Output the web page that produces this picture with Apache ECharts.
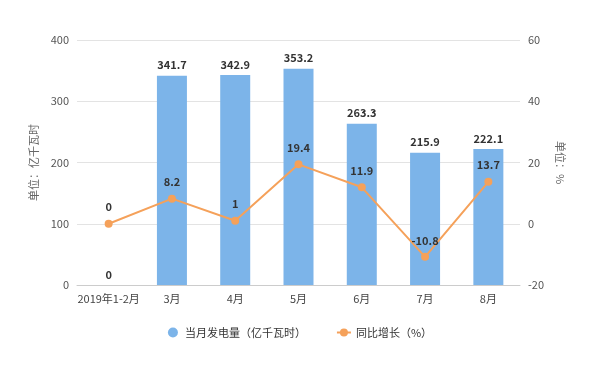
<!DOCTYPE html>
<html><head><meta charset="utf-8">
<script src="https://cdn.jsdelivr.net/npm/echarts@6/dist/echarts.min.js"></script>
<style>html,body{margin:0;padding:0;background:#fff}#c{width:600px;height:365px}</style>
</head><body><div id="c"></div>
<script>
const categories = ['2019年1-2月','3月','4月','5月','6月','7月','8月'];
const generation = [0, 341.7, 342.9, 353.2, 263.3, 215.9, 222.1];
const growth = [0, 8.2, 1, 19.4, 11.9, -10.8, 13.7];
const leftTicks = {min:0, max:400, interval:100};
const rightTicks = {min:-20, max:60, interval:20};
const seriesNames = ['当月发电量（亿千瓦时）','同比增长（%）'];

const chart = echarts.init(document.getElementById('c'));
const font = '"Microsoft YaHei","Noto Sans CJK SC",sans-serif';
chart.setOption({
  animation:false,
  textStyle:{fontFamily:font},
  grid:{left:77,right:80,top:40,bottom:80,containLabel:false},
  legend:{
    bottom:22, left:'center', itemGap:30, itemWidth:14, itemHeight:10,
    textStyle:{fontSize:11,color:'#333',fontFamily:font},
    data:[{name:seriesNames[0],icon:'circle'},{name:seriesNames[1]}]
  },
  xAxis:{
    type:'category', data:categories,
    axisLine:{lineStyle:{color:'#ccc'}},
    axisTick:{alignWithLabel:true,lineStyle:{color:'#ccc'}},
    axisLabel:{color:'#444',fontSize:11,margin:8,interval:0}
  },
  yAxis:[{
    type:'value', min:leftTicks.min, max:leftTicks.max, interval:leftTicks.interval,
    name:'单位：亿千瓦时', nameLocation:'middle', nameGap:31, nameRotate:90,
    nameTextStyle:{color:'#666',fontSize:11},
    axisLine:{show:false}, axisTick:{show:false},
    axisLabel:{color:'#555',fontSize:11},
    splitLine:{lineStyle:{color:'#e3e3e3'}}
  },{
    type:'value', min:rightTicks.min, max:rightTicks.max, interval:rightTicks.interval,
    name:'单位：%', nameLocation:'middle', nameGap:28, nameRotate:-90,
    nameTextStyle:{color:'#666',fontSize:11},
    axisLine:{show:false}, axisTick:{show:false},
    axisLabel:{color:'#555',fontSize:11},
    splitLine:{show:false}
  }],
  series:[{
    name:seriesNames[0], type:'bar', data:generation, barWidth:30,
    itemStyle:{color:'#7cb4e9'},
    label:{show:true,position:'top',color:'#333',fontWeight:'bold',fontSize:11}
  },{
    name:seriesNames[1], type:'line', yAxisIndex:1, data:growth,
    symbol:'circle', symbolSize:8,
    itemStyle:{color:'#f5a15a'}, lineStyle:{color:'#f5a15a',width:2},
    label:{show:true,position:'top',color:'#333',fontWeight:'bold',fontSize:11,distance:7}
  }]
});
</script></body></html>
